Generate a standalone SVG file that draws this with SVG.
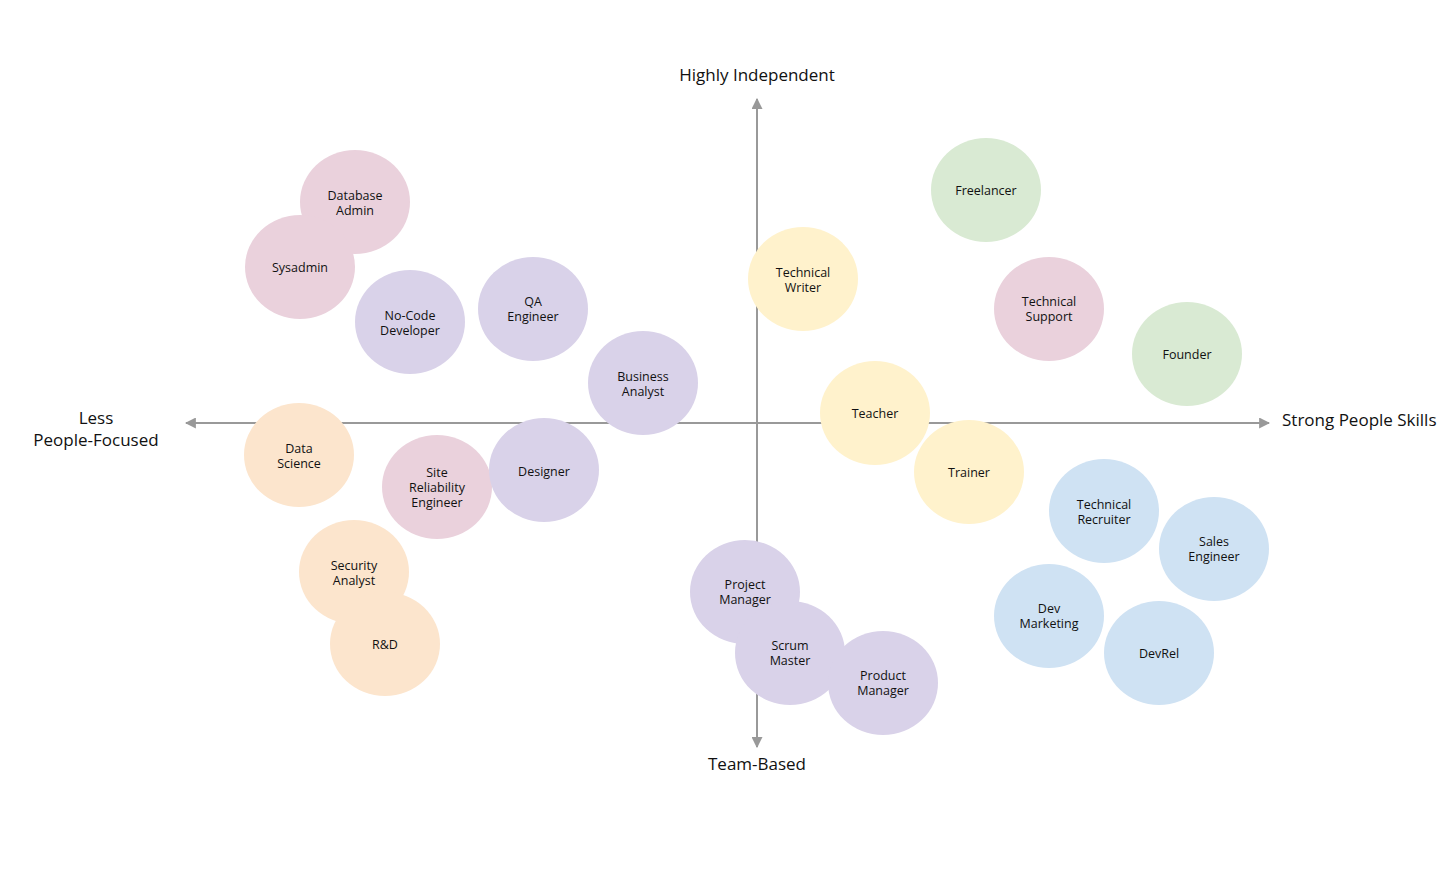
<svg xmlns="http://www.w3.org/2000/svg" width="1456" height="869" viewBox="0 0 1456 869">
<defs>
<style>
.n text{font-family:"Open Sans","Noto Sans",sans-serif;font-size:12.5px;fill:#111;text-anchor:middle}
.ax{font-family:"Open Sans","Noto Sans",sans-serif;font-size:17px;fill:#111}
.pk{fill:#EAD1DC}.pu{fill:#D9D2E9}.or{fill:#FCE5CD}.ye{fill:#FFF2CC}.gr{fill:#D9EAD3}.bl{fill:#CFE2F3}
.axis{stroke:#999;stroke-width:2;fill:none}
</style>
<marker id="ah" viewBox="0 0 10 10" refX="9" refY="5" markerWidth="5.5" markerHeight="5.5" orient="auto-start-reverse" markerUnits="strokeWidth">
<path d="M0,0L10,5L0,10z" fill="#999"/>
</marker>
</defs>
<rect width="1456" height="869" fill="#fff"/>
<g id="connectors">
<line class="axis" x1="186" y1="423" x2="1269" y2="423" marker-start="url(#ah)" marker-end="url(#ah)"/>
<line class="axis" x1="757" y1="99" x2="757" y2="747" marker-start="url(#ah)" marker-end="url(#ah)"/>
</g>
<g id="axis-labels">
<text class="ax" x="757" y="81" text-anchor="middle">Highly Independent</text>
<text class="ax" x="757" y="770" text-anchor="middle">Team-Based</text>
<text class="ax" x="96" y="424" text-anchor="middle">Less</text>
<text class="ax" x="96" y="446" text-anchor="middle">People-Focused</text>
<text class="ax" x="1282" y="426">Strong People Skills</text>
</g>
<g id="database-admin" class="n"><ellipse class="pk" cx="355" cy="202" rx="55" ry="52"/><text x="355" y="200">Database</text><text x="355" y="215">Admin</text></g>
<g id="sysadmin" class="n"><ellipse class="pk" cx="300" cy="267" rx="55" ry="52"/><text x="300" y="272">Sysadmin</text></g>
<g id="no-code-developer" class="n"><ellipse class="pu" cx="410" cy="322" rx="55" ry="52"/><text x="410" y="320">No-Code</text><text x="410" y="335">Developer</text></g>
<g id="qa-engineer" class="n"><ellipse class="pu" cx="533" cy="309" rx="55" ry="52"/><text x="533" y="306">QA</text><text x="533" y="321">Engineer</text></g>
<g id="business-analyst" class="n"><ellipse class="pu" cx="643" cy="383" rx="55" ry="52"/><text x="643" y="381">Business</text><text x="643" y="396">Analyst</text></g>
<g id="technical-writer" class="n"><ellipse class="ye" cx="803" cy="279" rx="55" ry="52"/><text x="803" y="277">Technical</text><text x="803" y="292">Writer</text></g>
<g id="freelancer" class="n"><ellipse class="gr" cx="986" cy="190" rx="55" ry="52"/><text x="986" y="195">Freelancer</text></g>
<g id="technical-support" class="n"><ellipse class="pk" cx="1049" cy="309" rx="55" ry="52"/><text x="1049" y="306">Technical</text><text x="1049" y="321">Support</text></g>
<g id="founder" class="n"><ellipse class="gr" cx="1187" cy="354" rx="55" ry="52"/><text x="1187" y="359">Founder</text></g>
<g id="teacher" class="n"><ellipse class="ye" cx="875" cy="413" rx="55" ry="52"/><text x="875" y="418">Teacher</text></g>
<g id="trainer" class="n"><ellipse class="ye" cx="969" cy="472" rx="55" ry="52"/><text x="969" y="477">Trainer</text></g>
<g id="data-science" class="n"><ellipse class="or" cx="299" cy="455" rx="55" ry="52"/><text x="299" y="453">Data</text><text x="299" y="468">Science</text></g>
<g id="site-reliability-engineer" class="n"><ellipse class="pk" cx="437" cy="487" rx="55" ry="52"/><text x="437" y="477">Site</text><text x="437" y="492">Reliability</text><text x="437" y="507">Engineer</text></g>
<g id="designer" class="n"><ellipse class="pu" cx="544" cy="470" rx="55" ry="52"/><text x="544" y="476">Designer</text></g>
<g id="security-analyst" class="n"><ellipse class="or" cx="354" cy="572" rx="55" ry="52"/><text x="354" y="570">Security</text><text x="354" y="585">Analyst</text></g>
<g id="r-and-d" class="n"><ellipse class="or" cx="385" cy="644" rx="55" ry="52"/><text x="385" y="649">R&amp;D</text></g>
<g id="project-manager" class="n"><ellipse class="pu" cx="745" cy="592" rx="55" ry="52"/><text x="745" y="589">Project</text><text x="745" y="604">Manager</text></g>
<g id="scrum-master" class="n"><ellipse class="pu" cx="790" cy="653" rx="55" ry="52"/><text x="790" y="650">Scrum</text><text x="790" y="665">Master</text></g>
<g id="product-manager" class="n"><ellipse class="pu" cx="883" cy="683" rx="55" ry="52"/><text x="883" y="680">Product</text><text x="883" y="695">Manager</text></g>
<g id="technical-recruiter" class="n"><ellipse class="bl" cx="1104" cy="511" rx="55" ry="52"/><text x="1104" y="509">Technical</text><text x="1104" y="524">Recruiter</text></g>
<g id="sales-engineer" class="n"><ellipse class="bl" cx="1214" cy="549" rx="55" ry="52"/><text x="1214" y="546">Sales</text><text x="1214" y="561">Engineer</text></g>
<g id="dev-marketing" class="n"><ellipse class="bl" cx="1049" cy="616" rx="55" ry="52"/><text x="1049" y="613">Dev</text><text x="1049" y="628">Marketing</text></g>
<g id="devrel" class="n"><ellipse class="bl" cx="1159" cy="653" rx="55" ry="52"/><text x="1159" y="658">DevRel</text></g>
</svg>
